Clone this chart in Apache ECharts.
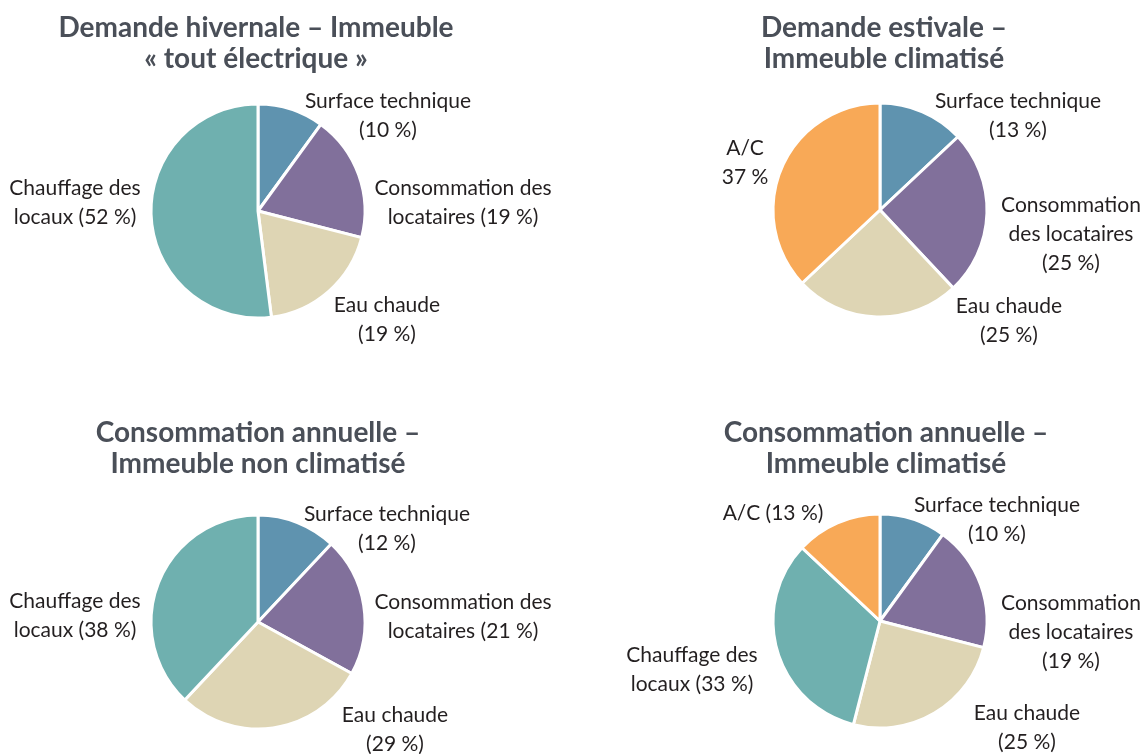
<!DOCTYPE html>
<html>
<head>
<meta charset="utf-8">
<script src="https://cdn.jsdelivr.net/npm/echarts@6/dist/echarts.min.js"></script>
<style>
  html, body { margin: 0; padding: 0; background: #fff; }
  #main { width: 1146px; height: 754px; }
</style>
</head>
<body>
<div id="main"></div>
<script>
// couleurs par poste de consommation
var colors = {
  surface: '#5F93AF',
  conso: '#81709B',
  eau: '#DED5B4',
  chauffage: '#6FB0AF',
  ac: '#F8A957'
};

// Demande hivernale - immeuble tout electrique
var winterKeys = ['surface', 'conso', 'eau', 'chauffage'];
var winterValues = [10, 19, 19, 52];
var winterLabels = ['Surface technique\n({v} %)', 'Consommation des\nlocataires ({v} %)', 'Eau chaude\n({v} %)', 'Chauffage des\nlocaux ({v} %)'];

// Demande estivale - immeuble climatise
var summerKeys = ['surface', 'conso', 'eau', 'ac'];
var summerValues = [13, 25, 25, 37];
var summerLabels = ['Surface technique\n({v} %)', 'Consommation\ndes locataires\n({v} %)', 'Eau chaude\n({v} %)', 'A/C\n{v} %'];

// Consommation annuelle - non climatise
var annualKeys = ['surface', 'conso', 'eau', 'chauffage'];
var annualValues = [12, 21, 29, 38];
var annualLabels = ['Surface technique\n({v} %)', 'Consommation des\nlocataires ({v} %)', 'Eau chaude\n({v} %)', 'Chauffage des\nlocaux ({v} %)'];

// Consommation annuelle - climatise
var annualAcKeys = ['surface', 'conso', 'eau', 'chauffage', 'ac'];
var annualAcValues = [10, 19, 25, 33, 13];
var annualAcLabels = ['Surface technique\n({v} %)', 'Consommation\ndes locataires\n({v} %)', 'Eau chaude\n({v} %)', 'Chauffage des\nlocaux ({v} %)', 'A/C ({v} %)'];

var titles = [
  'Demande hivernale – Immeuble\n« tout électrique »',
  'Demande estivale –\nImmeuble climatisé',
  'Consommation annuelle –\nImmeuble non climatisé',
  'Consommation annuelle –\nImmeuble climatisé'
];

// mise en page : centre du camembert, centre du titre, decalage des etiquettes
var panels = [
  { keys: winterKeys, values: winterValues, labels: winterLabels, center: [258, 211], titleX: 256, titleY: 43,
    offsets: [[130, -95], [205, -8], [129, 109], [-183, -8]] },
  { keys: summerKeys, values: summerValues, labels: summerLabels, center: [880, 210], titleX: 884, titleY: 43,
    offsets: [[138, -94], [191, 24], [129, 111], [-135, -47]] },
  { keys: annualKeys, values: annualValues, labels: annualLabels, center: [258, 622], titleX: 258, titleY: 448,
    offsets: [[129, -93], [205, -5], [137, 108], [-183, -6]] },
  { keys: annualAcKeys, values: annualAcValues, labels: annualAcLabels, center: [880, 621], titleX: 886, titleY: 448,
    offsets: [[117, -101], [191, 11], [147, 107], [-188, 49], [-107, -108]] }
];

var FONT = 'Lato, "Noto Sans", sans-serif';

function buildSeries(p, idx) {
  var data = p.keys.map(function (k, i) {
    return { name: p.labels[i], value: p.values[i], itemStyle: { color: colors[k] } };
  });
  return {
    type: 'pie',
    center: p.center,
    radius: 107,
    startAngle: 90,
    clockwise: true,
    silent: true,
    animation: false,
    itemStyle: { borderColor: '#ffffff', borderWidth: 3 },
    label: {
      show: true,
      position: 'inside',
      color: '#231F20',
      fontFamily: FONT,
      fontSize: 21,
      lineHeight: 29,
      formatter: function (params) {
        return params.name.replace('{v}', params.value);
      }
    },
    labelLine: { show: false },
    labelLayout: function (params) {
      var o = p.offsets[params.dataIndex];
      return { x: p.center[0] + o[0], y: p.center[1] + o[1], align: 'center', verticalAlign: 'middle' };
    },
    data: data
  };
}

var chart = echarts.init(document.getElementById('main'), null, { renderer: 'canvas' });
chart.setOption({
  backgroundColor: '#ffffff',
  graphic: panels.map(function (p, i) {
    return {
      type: 'text',
      x: p.titleX,
      y: p.titleY,
      silent: true,
      style: {
        text: titles[i],
        fill: '#4A4F58',
        fontFamily: FONT,
        fontWeight: 'bold',
        fontSize: 28,
        lineHeight: 31,
        align: 'center',
        verticalAlign: 'middle'
      }
    };
  }),
  series: panels.map(buildSeries)
});
</script>
</body>
</html>
